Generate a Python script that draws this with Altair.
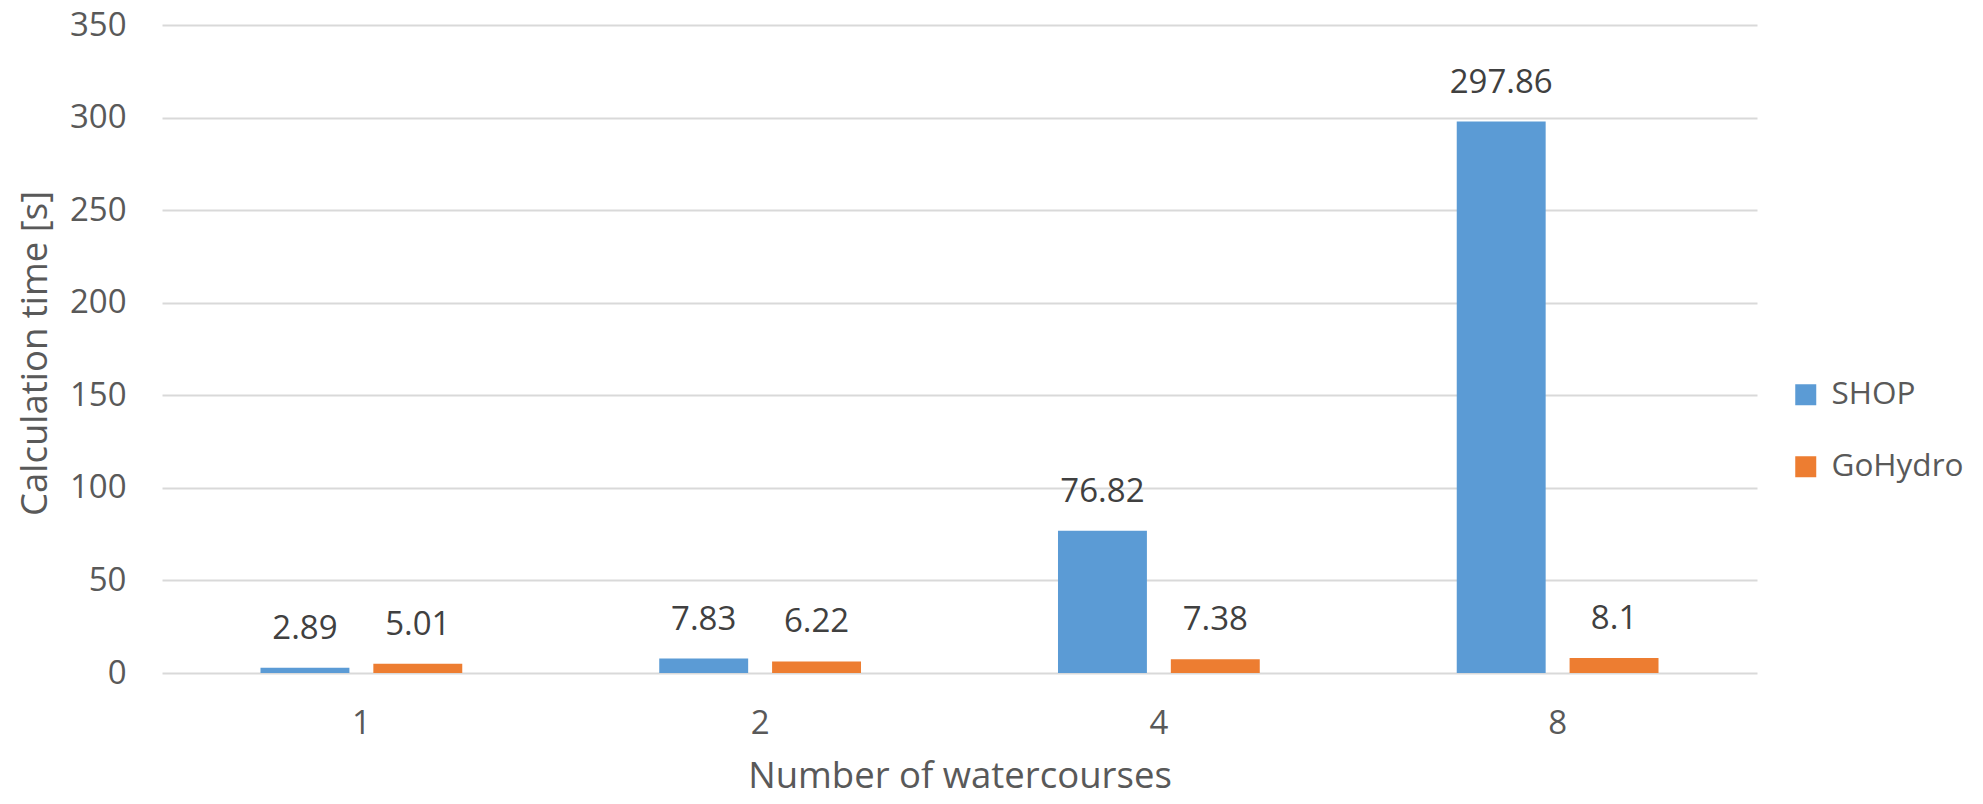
import altair as alt
import pandas as pd

categories = ["1", "2", "4", "8"]
series = ["SHOP", "GoHydro"]
shop_values = [2.89, 7.83, 76.82, 297.86]
gohydro_values = [5.01, 6.22, 7.38, 8.1]
shop_labels = ["2.89", "7.83", "76.82", "297.86"]
gohydro_labels = ["5.01", "6.22", "7.38", "8.1"]
colors = ["#5B9BD5", "#ED7D31"]
y_ticks = [0, 50, 100, 150, 200, 250, 300, 350]

rows = []
for c, v, l in zip(categories, shop_values, shop_labels):
    rows.append({"cat": c, "series": "SHOP", "value": v, "label": l})
for c, v, l in zip(categories, gohydro_values, gohydro_labels):
    rows.append({"cat": c, "series": "GoHydro", "value": v, "label": l})
df = pd.DataFrame(rows)

FONT = "Open Sans"
LABEL_COLOR = "#595959"

x = alt.X(
    "cat:N",
    sort=categories,
    title="Number of watercourses",
    scale=alt.Scale(paddingInner=0.494, paddingOuter=0.247),
    axis=alt.Axis(
        labelAngle=0, ticks=False, tickSize=0, domain=False, grid=False,
        labelFont=FONT, labelFontSize=33, labelColor=LABEL_COLOR, labelPadding=34,
        titleFont=FONT, titleFontSize=36.5, titleColor=LABEL_COLOR, titleFontWeight="normal",
        titleBaseline="alphabetic", titleAlign="center", titleX=797.5, titleY=114,
    ),
)
x_off = alt.XOffset("series:N", sort=series, scale=alt.Scale(paddingInner=0.212, paddingOuter=0))
y = alt.Y(
    "value:Q",
    scale=alt.Scale(domain=[0, 350], nice=False, zero=True),
    axis=alt.Axis(
        values=y_ticks, ticks=False, tickSize=0, domain=False,
        gridColor="#D9D9D9", gridWidth=2,
        labelFont=FONT, labelFontSize=33, labelColor=LABEL_COLOR, labelPadding=36,
        title="Calculation time [s]", titleFont=FONT, titleFontSize=36.5, titleColor=LABEL_COLOR,
        titleFontWeight="normal", titleAngle=270, titleX=-116, titleY=328,
        titleAlign="center", titleBaseline="alphabetic",
    ),
)
color = alt.Color(
    "series:N",
    sort=series,
    scale=alt.Scale(domain=series, range=colors),
    legend=alt.Legend(
        title=None, orient="none", legendX=1628, legendY=354,
        symbolType="square", symbolSize=441, symbolStrokeWidth=0,
        labelFont=FONT, labelFontSize=31.5, labelColor=LABEL_COLOR, labelOffset=10,
        rowPadding=39, padding=0,
    ),
)

base = alt.Chart(df)
bars = base.mark_bar().encode(x=x, xOffset=x_off, y=y, color=color)
texts = base.mark_text(
    dy=-29, baseline="alphabetic", align="center", font=FONT, fontSize=33, color="#404040"
).encode(x=x, xOffset=x_off, y=y, text="label:N")

chart = (
    alt.layer(bars, texts)
    .properties(
        width=1595, height=648,
        autosize=alt.AutoSizeParams(type="none"),
        padding={"left": 154, "top": 17, "right": 218, "bottom": 121},
    )
    .configure_view(strokeWidth=0)
)

chart.save("out.html", embed_options={"renderer": "svg", "actions": False})
